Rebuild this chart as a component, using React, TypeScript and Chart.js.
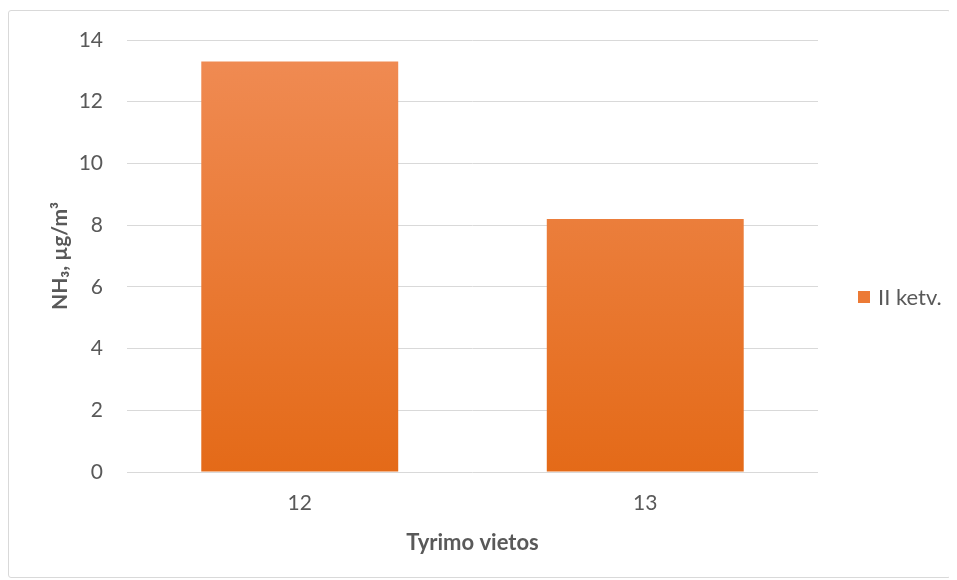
import React, { useEffect, useRef } from "react";
import { Chart, registerables } from "chart.js";

Chart.register(...registerables);

const categories = ["12", "13"];
const seriesLabel = "II ketv.";
const seriesValues = [13.3, 8.2];
const yTitle = "NH₃, µg/m³";
const xTitle = "Tyrimo vietos";
const yTicks = { min: 0, max: 14, step: 2 };

export default function App() {
  const ref = useRef<HTMLCanvasElement | null>(null);
  useEffect(() => {
    if (!ref.current) return;
    const chart = new Chart(ref.current, {
      type: "bar",
      data: {
        labels: categories,
        datasets: [
          {
            label: seriesLabel,
            data: seriesValues,
            backgroundColor: (ctx: any) => {
              const c = ctx.chart;
              const area = c.chartArea;
              if (!area) return "#ED7D31";
              const g = c.ctx.createLinearGradient(0, area.top, 0, area.bottom);
              g.addColorStop(0, "#F08C55");
              g.addColorStop(1, "#E46A18");
              return g;
            },
            borderWidth: 0,
            categoryPercentage: 0.57,
            barPercentage: 1,
          },
        ],
      },
      options: {
        responsive: false,
        animation: false,
        layout: { padding: { top: 29, right: 132, left: 35, bottom: 17 } },
        plugins: {
          tooltip: { enabled: false },
          legend: { display: false },
        },
        scales: {
          x: {
            grid: { display: false, drawTicks: false },
            border: { display: false },
            ticks: { color: "#595959", font: { family: "Lato", size: 21 }, padding: 19 },
            title: {
              display: true,
              text: xTitle,
              color: "#595959",
              font: { family: "Lato", size: 22, weight: "bold" },
              padding: { top: 0, bottom: 4 },
            },
            afterFit: (s: any) => {
              s.height = 88;
              s.paddingLeft = 0;
              s.paddingRight = 0;
            },
          },
          y: {
            min: yTicks.min,
            max: yTicks.max,
            ticks: { stepSize: yTicks.step, color: "#595959", font: { family: "Lato", size: 21 }, padding: 24 },
            grid: { color: "#D9D9D9", drawTicks: false },
            border: { display: false },
            title: {
              display: true,
              text: yTitle,
              color: "#595959",
              font: { family: "Lato", size: 21, weight: "bold" },
              padding: { top: 4, bottom: 0 },
            },
            afterFit: (s: any) => {
              s.width = 83;
              s.paddingTop = 0;
              s.paddingBottom = 0;
            },
          },
        },
      },
    });
    return () => chart.destroy();
  }, []);
  return (
    <div
      style={{
        position: "relative",
        marginTop: 2,
        width: 943,
        height: 568,
        border: "1px solid #D9D9D9",
        boxSizing: "border-box",
        borderRadius: 3,
      }}
    >
      <canvas ref={ref} width={941} height={566} style={{ display: "block" }} />
      <div
        style={{
          position: "absolute",
          left: 849,
          top: 273,
          display: "flex",
          alignItems: "center",
          fontFamily: "Lato",
          fontSize: 22,
          color: "#595959",
          lineHeight: "26px",
        }}
      >
        <span style={{ display: "inline-block", width: 12, height: 12, background: "#EC7A35", marginRight: 8 }} />
        <span>{seriesLabel}</span>
      </div>
    </div>
  );
}
